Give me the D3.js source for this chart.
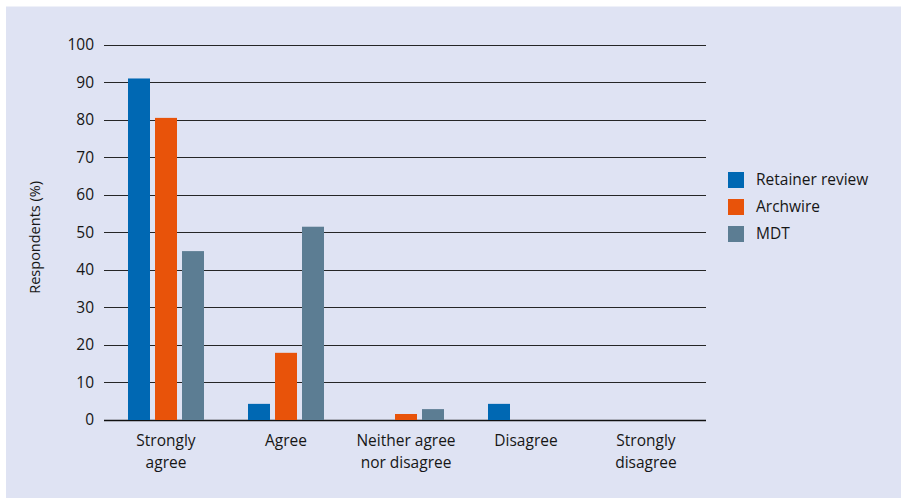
<!DOCTYPE html>
<html>
<head>
<meta charset="utf-8">
<script src="https://cdn.jsdelivr.net/npm/d3@7"></script>
<style>
  html, body { margin: 0; padding: 0; background: #ffffff; }
  svg { display: block; }
  text { font-family: "Open Sans", "Noto Sans", sans-serif; fill: #161616; }
</style>
</head>
<body>
<svg id="chart" width="901" height="498"></svg>
<script>
// Survey responses by item (% of respondents)
const categories = [["Strongly", "agree"], ["Agree"], ["Neither agree", "nor disagree"], ["Disagree"], ["Strongly", "disagree"]];
const seriesNames = ["Retainer review", "Archwire", "MDT"];
const retainerReview = [91, 4.3, 0, 4.3, 0];
const archwire = [80.5, 17.9, 1.6, 0, 0];
const mdt = [45, 51.5, 2.9, 0, 0];
const yTicks = [0, 10, 20, 30, 40, 50, 60, 70, 80, 90, 100];
const colors = ["#0068b3", "#e8530a", "#5c7d93"];

const seriesValues = [retainerReview, archwire, mdt];
const svg = d3.select("#chart");

// Background panel
svg.append("rect").attr("x", 6).attr("y", 6.5).attr("width", 895).attr("height", 492)
  .attr("fill", "#dfe3f3");

const plot = { left: 104, right: 706, top: 44.7, bottom: 420 };
const catIdx = d3.range(categories.length);

const x = d3.scaleBand().domain(catIdx).range([106, 706]).paddingInner(0).paddingOuter(0);
const y = d3.scaleLinear().domain([0, 100]).range([plot.bottom, plot.top]);

// Gridlines
svg.append("g").selectAll("line").data(yTicks).join("line")
  .attr("x1", plot.left).attr("x2", plot.right)
  .attr("y1", d => Math.round(y(d)) + 0.5).attr("y2", d => Math.round(y(d)) + 0.5)
  .attr("stroke", d => d === 0 ? "#111" : "#262626")
  .attr("stroke-width", d => d === 0 ? 1.6 : 1.1);

// Y tick labels
svg.append("g").selectAll("text").data(yTicks).join("text")
  .attr("x", 94).attr("y", d => y(d)).attr("dy", "0.35em")
  .attr("text-anchor", "end").attr("font-size", 15.5)
  .text(d => d);

// Y axis title
svg.append("text")
  .attr("transform", `translate(40, ${(plot.top + plot.bottom) / 2 + 5}) rotate(-90)`)
  .attr("text-anchor", "middle").attr("font-size", 14.5)
  .text("Respondents  (%)");

// Bars
const barW = 22, gap = 5;
const groupW = barW * 3 + gap * 2;
const xs = d3.scaleBand().domain(d3.range(seriesNames.length)).range([0, groupW]).paddingInner(gap / (barW + gap));

seriesValues.forEach((vals, s) => {
  svg.append("g").selectAll("rect").data(vals).join("rect")
    .attr("x", (d, i) => x(i) + x.bandwidth() / 2 - groupW / 2 + xs(s))
    .attr("width", xs.bandwidth())
    .attr("y", d => y(d))
    .attr("height", d => plot.bottom - y(d))
    .attr("fill", colors[s]);
});

// Category labels
const cat = svg.append("g").selectAll("text").data(categories).join("text")
  .attr("x", (d, i) => x(i) + x.bandwidth() / 2)
  .attr("y", 446)
  .attr("text-anchor", "middle").attr("font-size", 15.5);
cat.selectAll("tspan").data(d => d).join("tspan")
  .attr("x", function () { return d3.select(this.parentNode).attr("x"); })
  .attr("dy", (d, i) => i === 0 ? 0 : 22)
  .text(d => d);

// Legend
const legend = svg.append("g").attr("transform", "translate(728, 172)");
seriesNames.forEach((name, i) => {
  const g = legend.append("g").attr("transform", `translate(0, ${i * 27})`);
  g.append("rect").attr("width", 16).attr("height", 16).attr("fill", colors[i]);
  g.append("text").attr("x", 28).attr("y", 8).attr("dy", "0.35em")
    .attr("font-size", 15.5).text(name);
});
</script>
</body>
</html>
